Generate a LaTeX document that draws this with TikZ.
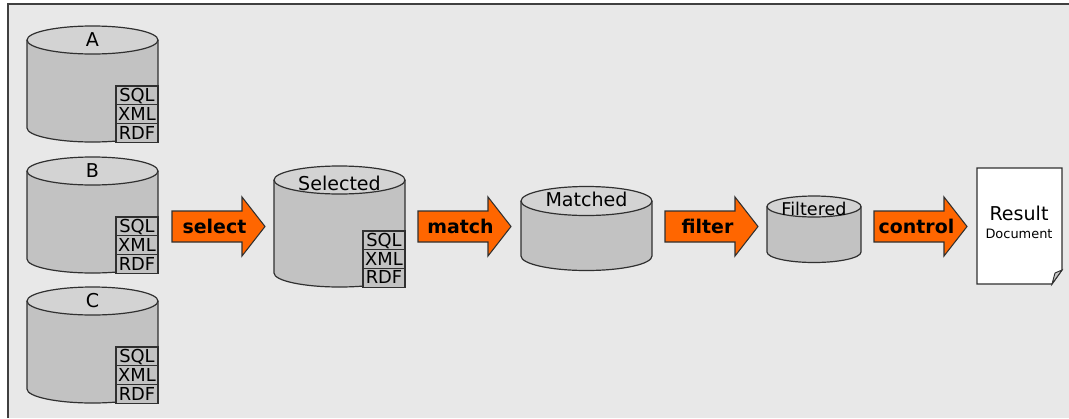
\documentclass[tikz,border=0pt]{standalone}
\usepackage{fontspec}
\setmainfont{DejaVu Sans}
\definecolor{bg}{HTML}{E8E8E8}
\definecolor{framec}{HTML}{404040}
\definecolor{cylbody}{HTML}{C2C2C2}
\definecolor{cyltop}{HTML}{D3D3D3}
\definecolor{arrowfill}{HTML}{FF6600}
\definecolor{outline}{HTML}{303030}
\definecolor{flap}{HTML}{C8C8C8}
\tikzset{
  outl/.style={draw=outline, line width=0.9pt},
  lbl/.style={font=\fontsize{14.3}{16}\selectfont, inner sep=0pt, anchor=base},
  fmt/.style={font=\fontsize{13.4}{15}\selectfont, inner sep=0pt, anchor=base},
  arrlbl/.style={font=\fontsize{14.2}{16}\selectfont\bfseries, inner sep=0pt, anchor=base},
}
% #1 name, #2 cx, #3 ytop, #4 ybot, #5 rx, #6 ry, #7 label baseline, #8 label
\newcommand{\cylinderdb}[8]{%
  \fill[cylbody] ({#2-#5},{-#3}) -- ({#2-#5},{-#4}) arc[start angle=180,end angle=360,x radius=#5,y radius=#6] -- ({#2+#5},{-#3}) -- cycle;
  \draw[outl] ({#2-#5},{-#3}) -- ({#2-#5},{-#4}) arc[start angle=180,end angle=360,x radius=#5,y radius=#6] -- ({#2+#5},{-#3});
  \filldraw[outl, fill=cyltop] (#2,{-#3}) ellipse[x radius=#5, y radius=#6];
  \node[lbl] (#1) at (#2,{-#7}) {#8};
}
% #1 name, #2 xl, #3 xr, #4 ytop, #5 row height
\newcommand{\formatbox}[5]{%
  \foreach \t [count=\i from 0] in {SQL,XML,RDF} {
    \filldraw[outl, fill=cylbody, line width=0.8pt] (#2,{-(#4+\i*#5)}) rectangle (#3,{-(#4+(\i+1)*#5)});
    \node[fmt] (#1-\t) at ({(#2+#3)/2},{-(#4+(\i+1)*#5-3.4)}) {\t};
  }
}
% #1 name, #2 x0, #3 label
\newcommand{\bigarrow}[3]{%
  \filldraw[outl, fill=arrowfill, line width=0.8pt] (#2,-211) -- ({#2+70},-211) -- ({#2+70},-197) -- ({#2+93},-226.5) -- ({#2+70},-256) -- ({#2+70},-242) -- (#2,-242) -- cycle;
  \node[arrlbl] (#1) at ({#2+42.5},-233.3) {#3};
}
\begin{document}
\begin{tikzpicture}[x=0.75pt,y=0.75pt]
\useasboundingbox (0,0) rectangle (1069,-418);
\fill[bg] (8,-4) rectangle (1069,-418);
\draw[framec, line width=1.5pt] (8,-418) -- (8,-4) -- (1069,-4);

% sources
\cylinderdb{A}{92.5}{40}{128}{65.5}{14}{46}{A}
\formatbox{fA}{116}{158}{86}{18.8}
\cylinderdb{B}{92.5}{171}{259}{65.5}{14}{177}{B}
\formatbox{fB}{116}{158}{217}{18.8}
\cylinderdb{C}{92.5}{301}{389}{65.5}{14}{307.3}{C}
\formatbox{fC}{116}{158}{347}{18.8}

% arrows
\bigarrow{select}{172}{select}
\bigarrow{match}{418}{match}
\bigarrow{filter}{665}{filter}
\bigarrow{control}{874}{control}

% selected
\cylinderdb{Sel}{339.5}{180}{273}{65.5}{14}{190.7}{Selected}
\formatbox{fS}{363}{405}{231}{18.7}

% matched
\cylinderdb{Mat}{586.5}{201}{256}{65.5}{14.5}{206.7}{Matched}

% filtered
\cylinderdb{Fil}{814}{206.5}{252}{47}{10.5}{215}{\fontsize{13.2}{15}\selectfont Filtered}

% result document
\filldraw[outl, fill=white] (977,-168) -- (1062,-168) -- (1062,-270) -- (1052,-284) -- (977,-284) -- cycle;
\filldraw[outl, fill=flap, line width=0.7pt] (1052,-284) -- (1055,-273) -- (1062,-270) -- cycle;
\node[lbl] (res) at (1019,-220.7) {Result};
\node[lbl, font=\fontsize{9.7}{11}\selectfont] (doc) at (1019,-238.3) {Document};
\end{tikzpicture}
\end{document}
